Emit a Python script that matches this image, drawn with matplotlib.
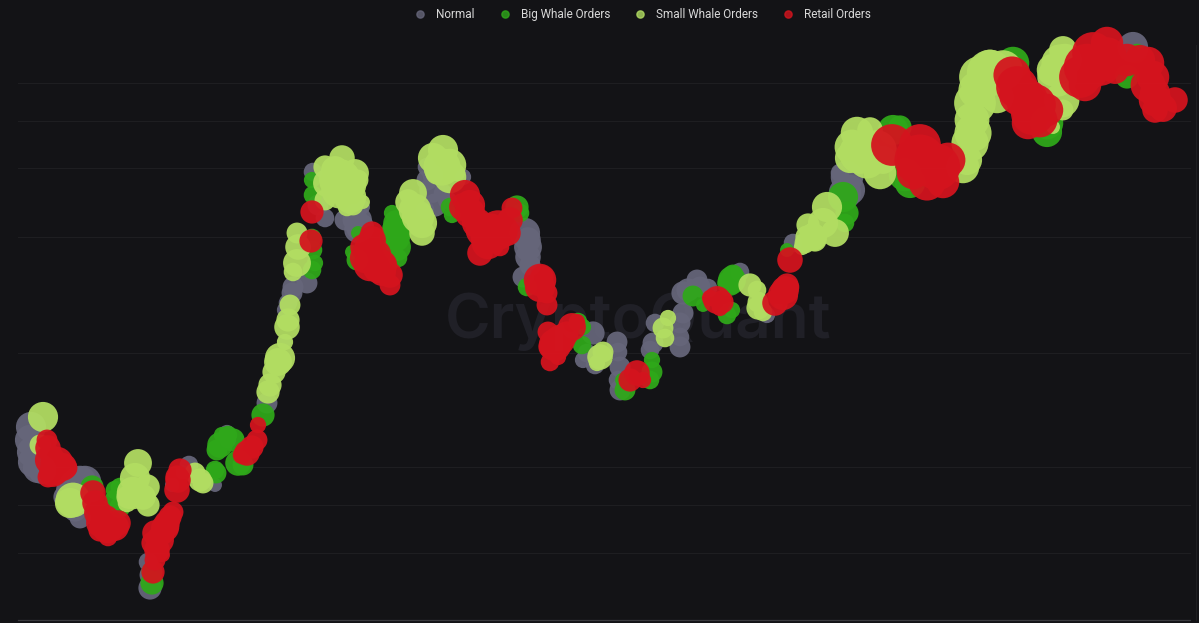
import matplotlib
matplotlib.use("Agg")
import matplotlib.pyplot as plt
from matplotlib.lines import Line2D

# Chart-space readings: (x position, y level, bubble radius)
normal_points = [
 (31,427,13),(30,440,13),(32,452,13),(33,462,13),(38,468,13),(42,470,12),(80,482,14),(85,482,14),(70,490,12),(75,485,13),
 (65,497,10),(80,518,9),(75,510,10),(92,490,10),(150,588,10),(150,575,9),(148,562,8),(189,465,8),(183,472,6),(172,485,6),
 (227,433,7),(228,440,7),(215,485,6),(267,403,9),(284,342,6),(292,293,9),(307,283,9),(293,287,9),(285,310,7),(288,303,8),
 (313,172,8),(325,218,8),(318,205,9),(358,220,12),(360,227,12),(357,230,11),(363,207,6),(345,220,9),(353,220,9),(355,215,10),
 (427,167,8),(427,180,9),(433,175,9),(432,190,11),(435,205,10),(425,210,8),(443,193,8),(447,200,8),(463,177,7),
 (525,233,13),(528,240,11),(528,247,12),(528,257,11),(530,265,9),(523,277,9),(593,333,10),(587,353,8),(583,360,7),(595,365,8),
 (617,342,9),(618,352,8),(620,367,9),(618,380,8),(620,390,9),(653,343,9),(655,323,8),(650,350,8),(680,347,9),(680,337,8),
 (680,323,9),(683,313,9),(683,293,10),(697,280,9),(708,288,8),(700,287,9),(688,290,10),(740,272,8),(767,315,7),(793,243,8),
 (847,177,14),(850,190,13),(845,193,14),(840,173,8),(1133,47,13),
]
big_whale_points = [
 (92,487,10),(120,487,8),(115,500,9),(120,507,9),(115,490,8),(152,583,10),(152,572,9),(220,445,11),(217,450,9),(233,440,10),
 (228,435,8),(222,435,7),(216,473,9),(215,470,8),(238,463,11),(243,465,9),(263,415,10),(312,180,7),(313,195,8),(315,263,7),
 (313,250,8),(312,270,8),(312,238,8),(352,252,6),(357,260,9),(358,233,6),(396,223,11),(395,237,13),(397,230,13),(397,247,12),(398,258,8),
 (392,213,7),(450,207,8),(452,215,7),(517,207,10),(520,213,8),(527,287,8),(578,322,8),(582,345,8),(583,327,7),(652,360,7),
 (652,372,9),(650,380,8),(625,390,9),(622,380,6),(693,296,9),(703,305,6),(732,310,7),(727,315,8),(732,280,12),(730,283,11),
 (733,275,9),(787,250,6),(843,197,13),(847,213,10),(845,223,8),(893,130,13),(900,127,10),(910,183,13),(905,175,14),
 (1013,63,14),(1047,132,13),(1047,123,14),(1137,53,8),(1127,77,10),
]
small_whale_points = [
 (43,417,13),(40,445,9),(73,500,15),(70,503,13),(138,463,12),(135,478,13),(128,497,10),(147,487,11),(143,497,11),(133,493,14),
 (148,505,10),(127,503,8),(195,473,9),(200,480,10),(203,483,9),(268,392,10),(270,385,10),(274,372,10),(278,362,12),(280,358,13),
 (285,342,7),(287,327,11),(288,320,10),(290,305,9),(297,233,9),(298,247,11),(297,263,12),(293,272,8),(325,167,10),(342,158,11),
 (355,173,12),(358,180,9),(327,183,12),(340,180,18),(340,190,16),(335,170,12),(350,185,14),(325,200,9),(350,197,14),(363,202,6),(347,207,8),(353,205,9),(433,158,13),
 (443,150,13),(442,167,16),(450,165,14),(450,177,14),(437,173,10),(457,173,7),(413,193,12),(408,202,11),(415,210,14),(422,223,13),(422,233,11),
 (418,217,14),(600,357,11),(603,352,9),(597,363,7),(668,318,7),(663,328,9),(665,338,8),(750,285,10),(757,290,8),(758,302,9),
 (758,308,10),(763,312,8),(805,243,9),(807,237,10),(813,230,7),(802,247,7),(808,225,10),(827,207,13),(823,223,13),(835,233,12),
 (813,237,12),(815,240,10),(857,133,14),(870,130,11),(852,147,15),(850,158,13),(860,153,18),(880,173,14),(877,150,17),(867,160,16),
 (883,160,12),(963,167,14),(967,160,13),(970,143,16),(973,133,16),(972,120,15),(975,103,18),(977,90,16),(980,77,18),(990,73,20),
 (1003,70,17),(997,97,14),(990,67,15),(1060,63,16),(1057,77,17),(1053,70,14),(1062,100,15),(1063,110,9),(1053,127,6),(1063,50,12),(1065,60,14),
]
retail_points = [
 (47,440,9),(48,448,11),(50,460,13),(53,473,12),(55,470,13),(63,467,12),(57,463,14),(48,477,9),(67,468,9),(93,493,11),(95,503,11),
 (98,513,12),(100,530,10),(108,527,14),(115,527,12),(118,523,11),(108,537,8),(105,520,13),(100,523,12),(153,572,10),(155,560,9),
 (157,550,11),(160,540,12),(165,528,12),(163,555,6),(153,543,10),(155,533,11),(163,533,10),(167,523,11),(170,517,10),(173,512,9),(170,527,8),(177,490,11),
 (178,480,11),(180,470,10),(177,477,10),(258,425,7),(257,440,9),(252,447,10),(247,453,11),(242,455,8),(312,212,10),(311,241,10),
 (372,233,10),(372,240,12),(363,247,11),(365,258,13),(370,250,14),(370,265,14),(375,255,14),(378,268,13),(382,272,12),(382,265,13),(385,265,10),(390,275,11),(390,285,9),(465,195,13),
 (463,207,12),(470,205,13),(470,213,13),(477,223,13),(483,230,15),(490,232,16),(487,238,14),(498,230,17),(512,208,9),(510,220,11),(508,233,11),(480,253,11),(488,243,14),
 (500,247,8),(542,277,10),(540,280,14),(540,287,13),(547,293,9),(547,305,9),(537,283,9),(548,332,9),(550,347,10),(550,362,8),(558,357,7),
 (555,345,14),(560,340,13),(565,335,11),(572,327,12),(567,333,10),(577,322,7),(630,380,10),(637,373,11),(643,380,7),(717,300,12),(722,302,10),(710,298,7),
 (720,308,7),(790,260,11),(787,285,10),(785,290,12),(783,295,13),(775,303,11),(790,287,8),(892,145,18),(920,145,18),(920,160,22),(927,182,16),
 (943,182,14),(948,160,15),(937,167,20),(913,173,14),(1012,75,16),(1017,87,18),(1020,95,18),(1027,100,18),(1035,105,18),(1033,113,19),(1028,123,14),(1047,110,14),
 (1040,120,15),(1080,77,18),(1085,85,14),(1087,67,20),(1093,53,18),(1100,65,18),(1107,43,14),(1107,57,17),(1115,70,12),(1127,60,14),(1140,60,13),(1148,63,14),
 (1148,85,15),(1153,77,14),(1155,93,13),(1155,100,14),(1155,110,11),(1163,108,12),(1175,100,11),
]

grid_levels = [83,121,168,237,353,467,505,553]
legend_labels = ["Normal", "Big Whale Orders", "Small Whale Orders", "Retail Orders"]
colors = ["#66667a", "#2fa81a", "#b2dd62", "#d4141e"]
BG = "#131316"

fig = plt.figure(figsize=(11.99, 6.23), dpi=100, facecolor=BG)
ax = fig.add_axes([0, 0, 1, 1], facecolor=BG)
ax.set_xlim(0, 1199)
ax.set_ylim(623, 0)
ax.axis("off")

for level in grid_levels:
    ax.plot([18, 1190], [level, level], color="#1e1e21", lw=0.8, zorder=1)
ax.plot([18, 1190], [620, 620], color="#3a3a3e", lw=0.9, zorder=1)
ax.plot([1196, 1196], [45, 620], color="#1e1e21", lw=0.8, zorder=1)

ax.text(638, 322, "CryptoQuant", fontsize=44.7, family="Inter", weight="semibold", color="#202027",
        ha="center", va="center", zorder=1.5)

series = [normal_points, big_whale_points, small_whale_points, retail_points]
for i, (pts, c) in enumerate(zip(series, colors)):
    x, y, r = zip(*pts)
    ax.scatter(x, y, s=[(2 * v * 0.72 * 1.16) ** 2 for v in r], color=c, alpha=0.94,
               linewidths=0, zorder=2 + i)

handles = [Line2D([], [], marker="o", ls="", color=c, alpha=0.8, ms=5.2) for c in colors]
ax.legend(handles, legend_labels, ncol=4, frameon=False, loc="center",
          bbox_to_anchor=(642.5 / 1199, 1 - 14.5 / 623), prop={"family": "Roboto", "size": 8.5},
          labelcolor="#d8d8d8", handletextpad=0.85, columnspacing=2.05, handlelength=1.0)

fig.savefig("out.png", dpi=100, facecolor=BG)
